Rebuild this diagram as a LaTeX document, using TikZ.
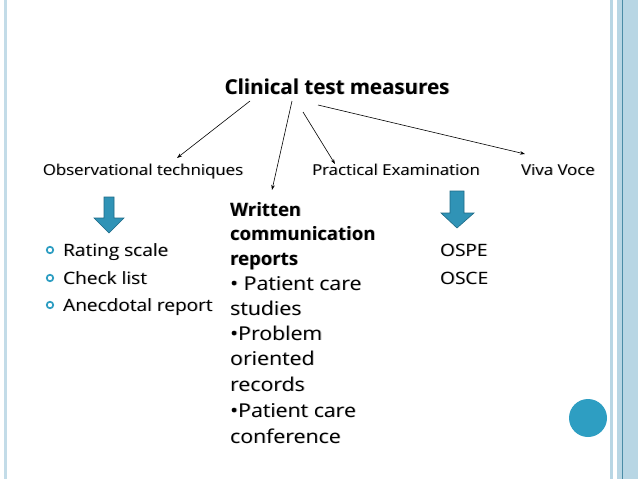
\documentclass[tikz,border=0pt]{standalone}
\usepackage{fontspec}
\setmainfont[FakeStretch=1.12, BoldFeatures={FakeStretch=1.0}]{Open Sans}
\usetikzlibrary{arrows.meta}
\definecolor{tealc}{HTML}{2E9EC2}
\definecolor{arrowfill}{HTML}{3093B6}
\definecolor{arrowedge}{HTML}{1E6A86}
\definecolor{band}{HTML}{B8D6E4}
\definecolor{bandline}{HTML}{4A8CA6}
\newcommand{\shd}[1]{\leavevmode\rlap{\kern0.9pt\raisebox{-0.9pt}{\color{black!30}#1}}#1}
\tikzset{
  lbl/.style={font=\fontsize{15}{18}\selectfont, inner sep=0pt, anchor=base},
  item/.style={font=\fontsize{17}{20}\selectfont, inner sep=0pt, anchor=base west},
  wline/.style={font=\fontsize{19}{22}\selectfont, inner sep=0pt, anchor=base west},
  wbold/.style={font=\bfseries\fontsize{18.5}{22}\selectfont, inner sep=0pt, anchor=base west},
  conn/.style={draw=black, line width=0.6pt, -{Stealth[length=5pt,width=3.5pt]}},
  bigarrow/.style={fill=arrowfill, draw=arrowedge, line width=0.6pt},
  ring/.style={circle, draw=tealc, line width=1.7pt, minimum size=6.5pt, inner sep=0pt}
}
\begin{document}
\begin{tikzpicture}[x=1pt,y=-1pt]
\path[use as bounding box, fill=white] (0,0) rectangle (638,479);
% page decoration
\fill[band!85] (3.5,0) rectangle (7,479);
\fill[band] (610,0) rectangle (612.5,479);
\fill[band] (617,0) rectangle (638,479);
\draw[bandline, line width=0.7pt] (622,0) -- (622,479);
\fill[tealc] (588,418) circle (19);
% title and categories
\node[font=\bfseries\fontsize{20.5}{24}\selectfont, inner sep=0pt, anchor=base] (title) at (337,94) {\shd{Clinical test measures}};
\node[lbl] (obs) at (143,175) {\shd{Observational techniques}};
\node[lbl] (prac) at (396,175) {\shd{Practical Examination}};
\node[lbl] (viva) at (558,175) {\shd{Viva Voce}};
% connector end points
\coordinate (s1) at (250,101);
\coordinate (s2) at (292,101);
\coordinate (s3) at (303,112);
\coordinate (s4) at (318,105);
\coordinate (e1) at (177,158);
\coordinate (e2) at (272,190);
\coordinate (e3) at (335,164);
\coordinate (e4) at (525,154);
\draw[conn] (s1) -- (e1);
\draw[conn] (s2) -- (e2);
\draw[conn] (s3) -- (e3);
\draw[conn] (s4) -- (e4);
% big down arrows
\draw[bigarrow] (104,197) -- (114,197) -- (114,218) -- (124,218) -- (109,233) -- (94,218) -- (104,218) -- cycle;
\draw[bigarrow] (450,191) -- (464,191) -- (464,213) -- (474,213) -- (457,228) -- (441,213) -- (450,213) -- cycle;
% observational list
\node[ring] (b1) at (50,250) {};
\node[ring] (b2) at (50,278) {};
\node[ring] (b3) at (50,305) {};
\node[item] (i1) at (63,256) {\shd{Rating scale}};
\node[item] (i2) at (63,284) {\shd{Check list}};
\node[item] (i3) at (63,311) {\shd{Anecdotal report}};
% practical list
\node[item] (p1) at (440,256) {\shd{OSPE}};
\node[item] (p2) at (440,284) {\shd{OSCE}};
% written block
\node[wbold] (w1) at (230,216) {\shd{Written}};
\node[wbold] (w2) at (230,240) {\shd{communication}};
\node[wbold] (w3) at (230,265) {\shd{reports}};
\node[wline] (w4) at (230,290) {\shd{• Patient care}};
\node[wline] (w5) at (230,315) {\shd{studies}};
\node[wline] (w6) at (230,340) {\shd{•Problem}};
\node[wline] (w7) at (230,365) {\shd{oriented}};
\node[wline] (w8) at (230,391) {\shd{records}};
\node[wline] (w9) at (230,417) {\shd{•Patient care}};
\node[wline] (w10) at (230,443) {\shd{conference}};
\end{tikzpicture}
\end{document}
